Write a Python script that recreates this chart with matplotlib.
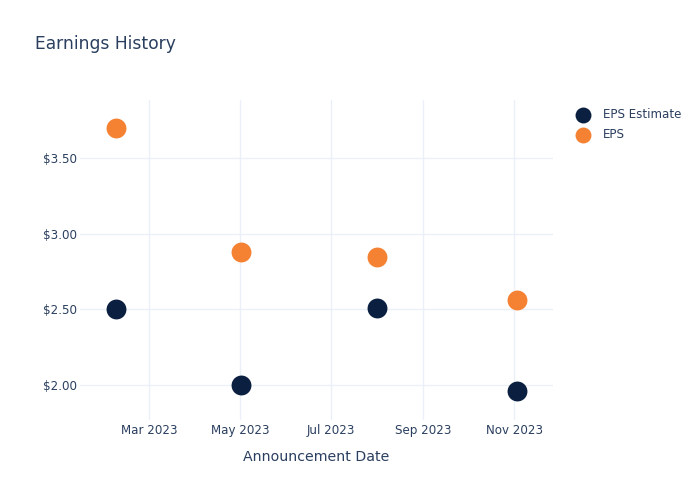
import numpy as np
import pandas as pd
import matplotlib
matplotlib.use('Agg')
import matplotlib.pyplot as plt
import matplotlib.dates as mdates
from matplotlib.ticker import FuncFormatter

# Earnings data
dates = pd.to_datetime(['2023-02-07', '2023-05-02', '2023-08-01', '2023-11-03'])
eps_estimate = [2.50, 2.00, 2.51, 1.96]
eps_actual = [3.70, 2.88, 2.85, 2.56]

txt = '#2a3f5f'
grid = '#ebf0f8'
navy = '#0b1f40'
orange = '#f58233'

fig = plt.figure(figsize=(7, 5), dpi=100)
ax = fig.add_axes([80/700, 80/500, 473/700, 320/500])

ax.scatter(dates, eps_estimate, s=205, c=navy, label='EPS Estimate', zorder=3, linewidths=0)
ax.scatter(dates, eps_actual, s=205, c=orange, label='EPS', zorder=3, linewidths=0)

ax.set_xlim(pd.Timestamp('2023-01-13 16:00'), pd.Timestamp('2023-11-27'))
ax.set_ylim(1.768, 3.886)

ax.xaxis.set_major_locator(mdates.MonthLocator(bymonth=[3, 5, 7, 9, 11]))
ax.xaxis.set_major_formatter(mdates.DateFormatter('%b %Y'))
ax.set_yticks([2.0, 2.5, 3.0, 3.5])
ax.yaxis.set_major_formatter(FuncFormatter(lambda v, p: f'${v:.2f}'))

for s in ax.spines.values():
    s.set_visible(False)
ax.grid(True, color=grid, linewidth=1)
ax.set_axisbelow(True)
ax.tick_params(axis='y', length=0, labelsize=8.6, colors=txt, pad=2)
ax.tick_params(axis='x', length=0, labelsize=8.6, colors=txt, pad=3)

ax.set_xlabel('Announcement Date', fontsize=10.2, color=txt, labelpad=9)
fig.text(35/700, 1 - 44/500, 'Earnings History', fontsize=12.3, color=txt, va='center', ha='left')

leg = fig.legend(loc='upper left', bbox_to_anchor=(571/700, 1 - 108/500), frameon=False,
                 fontsize=8.6, labelcolor=txt, handletextpad=0.7, labelspacing=0.62,
                 markerscale=0.8, borderaxespad=0, borderpad=0)

fig.savefig('out.png', dpi=100, facecolor='white')
